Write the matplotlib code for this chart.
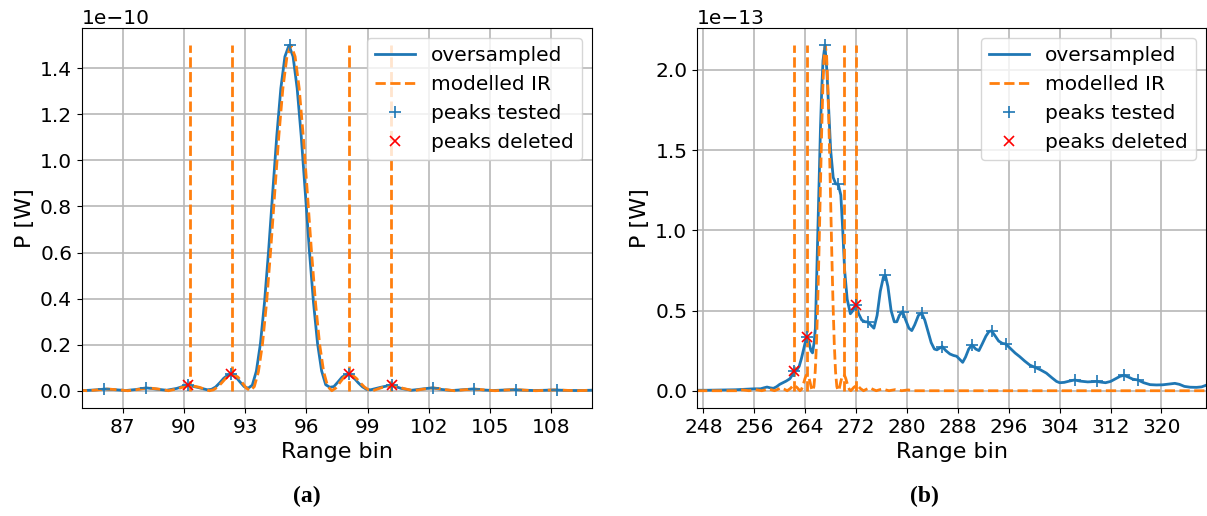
import numpy as np
import matplotlib
matplotlib.use("Agg")
import matplotlib.pyplot as plt
from matplotlib.ticker import MultipleLocator

# ---- panel (a), values in units of 1e-10 W ----
ir_a_x = [84.75, 85.25, 85.75, 86.25, 86.75, 87.25, 87.75, 88.25, 88.75, 89.25, 89.75, 90.25, 90.75, 91.25,
          91.45, 91.65, 91.85, 92.05, 92.25, 92.45, 92.65, 92.85, 93.05, 93.25, 93.45, 93.65, 93.85, 94.05,
          94.25, 94.45, 94.65, 94.85, 95.05, 95.25, 95.45, 95.65, 95.85, 96.05, 96.25, 96.45, 96.65, 96.85,
          97.05, 97.25, 97.45, 97.65, 97.85, 98.05, 98.25, 98.45, 98.65, 98.85, 99.05,
          99.25, 99.75, 100.25, 100.75, 101.25, 101.75, 102.25, 102.75, 103.25, 103.75, 104.25, 104.75,
          105.25, 105.75, 106.25, 106.75, 107.25, 107.75, 108.25, 108.75, 109.25, 109.75, 110.25]
ir_a_y = [.0028, 0, .0034, .0075, .0042, 0, .0054, .0124, .0072, 0, .0101, .0243, .015, 0,
          .004, .016, .034, .054, .068, .070, .059, .036, .012, 0, .018, .082, .203, .382,
          .608, .859, 1.105, 1.313, 1.451, 1.5, 1.451, 1.313, 1.105, .859, .608, .382, .203, .082,
          .018, 0, .012, .036, .059, .070, .068, .054, .034, .016, .004,
          0, .015, .0243, .0101, 0, .0072, .0124, .0054, 0, .0042, .0075, .0034,
          0, .0028, .005, .0023, 0, .0019, .0036, .0017, 0, .0014, .0027]

over_a_x = [84.65, 85.15, 85.65, 86.15, 86.65, 87.15, 87.65, 88.15, 88.65, 89.15, 89.65, 90.15, 90.65, 91.15,
            91.35, 91.55, 91.75, 91.95, 92.15, 92.35, 92.55, 92.75, 92.95, 93.15, 93.35, 93.55, 93.75, 93.95,
            94.15, 94.35, 94.55, 94.75, 94.95, 95.15, 95.35, 95.55, 95.75, 95.95, 96.15, 96.35, 96.55, 96.75,
            96.95, 97.15, 97.35, 97.55, 97.75, 97.95, 98.15, 98.35, 98.55, 98.75, 98.95,
            99.15, 99.65, 100.15, 100.65, 101.15, 101.65, 102.15, 102.65, 103.15, 103.65, 104.15, 104.65,
            105.15, 105.65, 106.15, 106.65, 107.15, 107.65, 108.15, 108.65, 109.15, 109.65, 110.15]
over_a_y = [.0028, .001, .0034, .0075, .0042, .001, .0054, .0124, .0072, .002, .0101, .0243, .015, .004,
            .006, .016, .034, .054, .068, .070, .059, .038, .018, .011, .024, .085, .205, .384,
            .608, .859, 1.105, 1.313, 1.451, 1.5, 1.451, 1.313, 1.105, .859, .608, .384, .205, .086,
            .026, .015, .018, .038, .059, .070, .068, .054, .034, .017, .006,
            .004, .015, .0243, .0101, .002, .0072, .0124, .0054, .001, .0042, .0075, .0034,
            .001, .0028, .005, .0023, .001, .0019, .0036, .0017, .001, .0014, .0027]

tested_a_x = [86.1, 88.15, 90.2, 92.3, 95.2, 98.08, 100.2, 102.23, 104.24, 106.3, 108.28]
tested_a_y = [.0075, .0125, .025, .0705, 1.5, .0705, .025, .0125, .0075, .005, .0036]
deleted_a_x = [90.2, 92.3, 98.08, 100.2]
deleted_a_y = [.025, .0705, .0705, .025]
marks_a_x = [90.3, 92.37, 98.08, 100.15]
marks_a_top = 1.5

# ---- panel (b), values in units of 1e-13 W ----
ir_b_x = [247.0, 253.17, 254.17, 255.17, 256.17, 257.17, 257.67, 258.17, 258.67, 259.17, 259.67, 260.17,
          260.67, 261.17, 261.67, 262.17, 262.67, 263.17,
          263.37, 263.57, 263.77, 263.97, 264.17, 264.37, 264.57, 264.77, 264.97, 265.17, 265.37, 265.57,
          265.77, 265.97, 266.17, 266.37, 266.57, 266.77, 266.97, 267.17, 267.37, 267.57, 267.77, 267.97,
          268.17, 268.37, 268.57, 268.77, 268.97, 269.17, 269.37, 269.57, 269.77, 269.97, 270.17, 270.37,
          270.57, 270.77, 270.97,
          271.17, 271.67, 272.17, 272.67, 273.17, 273.67, 274.17, 274.67, 275.17, 275.67, 276.17, 276.67,
          277.17, 278.17, 279.17, 280.17, 281.17, 327.0]
ir_b_y = [0, 0, .005, 0, .007, 0, .005, .011, .006, 0, .008, .018,
          .010, 0, .014, .035, .022, 0,
          .006, .023, .049, .077, .097, .101, .084, .052, .017, 0, .026, .118,
          .291, .548, .873, 1.234, 1.587, 1.885, 2.084, 2.154, 2.084, 1.885, 1.587, 1.234,
          .873, .548, .291, .118, .026, 0, .017, .052, .084, .101, .097, .077,
          .049, .023, .006,
          0, .022, .035, .014, 0, .010, .018, .008, 0, .006, .011, .005,
          0, .007, 0, .005, 0, 0]

over_b_x = [247.0, 248.5, 250.0, 251.5, 253.0, 254.0, 255.0, 256.0, 257.0, 257.5, 258.0, 258.5, 259.0,
            259.5, 260.0, 260.5, 261.0, 261.6, 262.0, 262.27, 262.7, 263.05, 263.4, 263.7, 264.0, 264.26,
            264.6, 264.9, 265.15, 265.4, 265.6, 265.8, 266.0, 266.2, 266.4, 266.6, 266.8, 267.1, 267.4,
            267.7, 268.0, 268.4, 268.8, 269.2, 269.6, 269.9, 270.2, 270.6, 271.1, 271.5, 271.95, 272.4,
            272.9, 273.4, 273.84, 274.3, 274.8, 275.3, 275.8, 276.3, 276.6, 277.0, 277.5, 278.0, 278.4,
            278.8, 279.3, 279.8, 280.3, 280.75, 281.2, 281.8, 282.3, 282.8, 283.3, 283.8, 284.3, 284.7,
            285.1, 285.55, 286.1, 286.75, 287.3, 287.8, 288.3, 288.75, 289.2, 289.7, 290.2, 290.8, 291.3,
            291.8, 292.4, 292.9, 293.3, 293.8, 294.4, 295.0, 295.5, 296.2, 297.0, 297.7, 298.5, 299.3,
            300.1, 300.9, 301.9, 302.8, 303.5, 304.0, 304.7, 305.5, 306.35, 307.2, 308.4, 309.8, 310.6,
            311.2, 312.0, 312.8, 313.5, 314.1, 314.8, 315.5, 316.3, 317.2, 318.2, 319.2, 320.2, 321.2,
            322.1, 322.8, 323.6, 324.5, 325.5, 326.3, 327.0]
over_b_y = [.003, .003, .004, .005, .006, .008, .010, .012, .012, .018, .023, .018, .015,
            .025, .040, .050, .060, .075, .100, .121, .130, .152, .200, .250, .300, .334,
            .300, .250, .236, .300, .390, .700, 1.02, 1.33, 1.64, 1.88, 2.06, 2.154, 2.00,
            1.75, 1.50, 1.33, 1.29, 1.286, 1.22, 1.00, .75, .57, .48, .50, .536, .48,
            .44, .43, .429, .41, .39, .47, .62, .71, .72, .65, .50, .43, .43,
            .47, .494, .44, .39, .375, .41, .47, .484, .44, .37, .30, .26, .255,
            .265, .275, .25, .229, .22, .215, .195, .177, .21, .26, .286, .26, .25,
            .29, .34, .37, .373, .345, .31, .295, .292, .265, .235, .213, .185, .16,
            .146, .132, .11, .08, .058, .05, .052, .06, .067, .06, .055, .058, .053,
            .05, .058, .075, .09, .096, .085, .072, .067, .05, .038, .036, .037, .042,
            .046, .04, .027, .022, .021, .024, .034]

tested_b_x = [262.27, 264.26, 267.1, 269.2, 271.95, 273.84, 276.6, 279.3, 282.3, 285.55, 290.2, 293.3,
              295.5, 300.1, 306.35, 309.8, 314.1, 316.3]
tested_b_y = [.121, .334, 2.154, 1.286, .536, .429, .72, .494, .484, .275, .286, .373,
              .292, .146, .067, .058, .096, .067]
deleted_b_x = [262.27, 264.26, 271.95]
deleted_b_y = [.121, .334, .536]
marks_b_x = [262.27, 264.3, 270.07, 272.05]
marks_b_top = 2.154

panels = [
    (ir_a_x, ir_a_y, over_a_x, over_a_y, tested_a_x, tested_a_y, deleted_a_x, deleted_a_y,
     marks_a_x, marks_a_top, 1e-10, (85, 110), 3, '(a)'),
    (ir_b_x, ir_b_y, over_b_x, over_b_y, tested_b_x, tested_b_y, deleted_b_x, deleted_b_y,
     marks_b_x, marks_b_top, 1e-13, (247, 327), 8, '(b)'),
]

fig = plt.figure(figsize=(12.07, 5.16), dpi=100)
rects = [[0.0679, 0.2093, 0.4225, 0.7364], [0.5775, 0.2093, 0.4217, 0.7364]]
caption_x = [0.2545, 0.766]

for i, p in enumerate(panels):
    irx, iry, ox, oy, tx, ty, dx, dy, mx, mtop, scale, xlim, step, cap = p
    ax = fig.add_axes(rects[i])
    ax.plot(ox, np.array(oy) * scale, color='C0', lw=2, label='oversampled')
    ax.plot(irx, np.array(iry) * scale, color='C1', lw=2, ls='--', label='modelled IR')
    ax.vlines(mx, 0, mtop * scale, colors='C1', lw=2, linestyles='--')
    ax.plot(tx, np.array(ty) * scale, '+', color='C0', ms=8, mew=1.2, label='peaks tested')
    ax.plot(dx, np.array(dy) * scale, 'x', color='red', ms=7, mew=1.2, label='peaks deleted')
    ax.set_xlim(*xlim)
    ax.xaxis.set_major_locator(MultipleLocator(step))
    ax.grid(True, color='#b8b8b8', lw=1.2)
    ax.set_axisbelow(True)
    ax.tick_params(labelsize=14.5)
    ax.yaxis.get_offset_text().set_fontsize(14.5)
    ax.set_xlabel('Range bin', fontsize=16)
    ax.set_ylabel('P [W]', fontsize=16)
    ax.legend(loc='upper right', fontsize=14.5)
    fig.text(caption_x[i], 0.038, cap, ha='center', va='center', fontsize=17,
             fontweight='bold', family='Liberation Serif')

fig.savefig('out.png', dpi=100)
